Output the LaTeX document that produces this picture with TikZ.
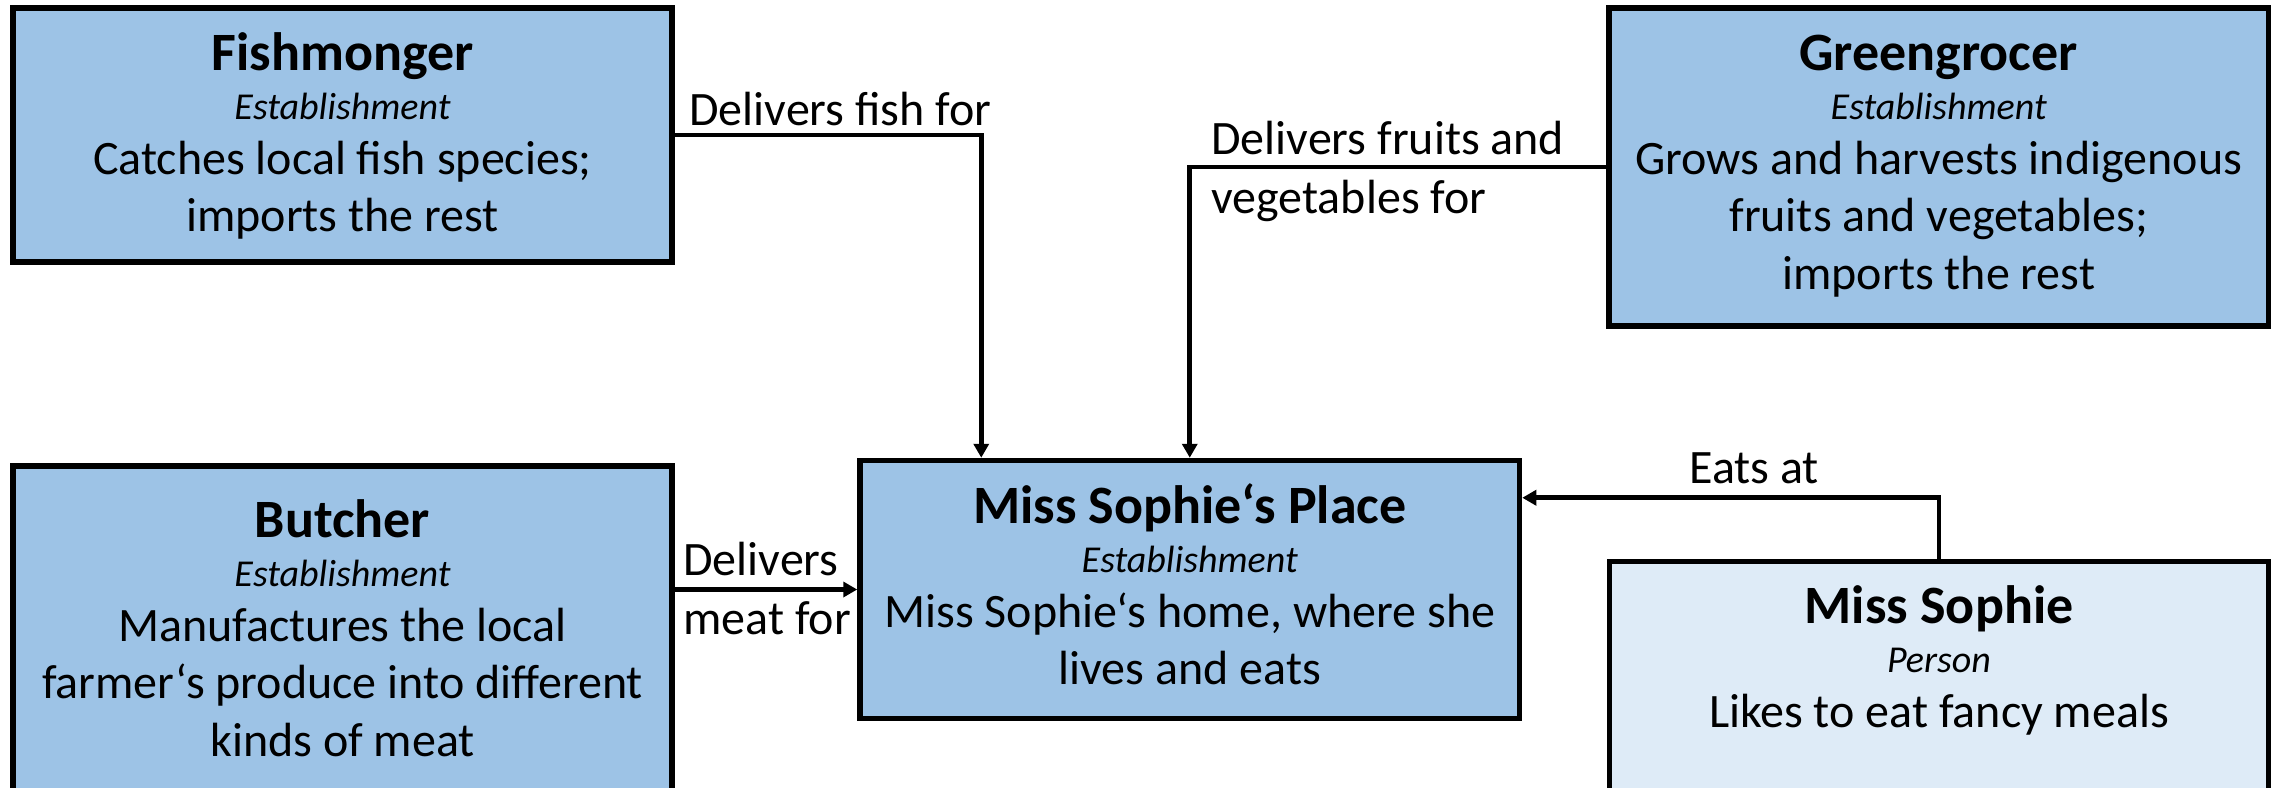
\documentclass[tikz,border=0pt]{standalone}
\usepackage{fontspec}
\setmainfont{Carlito}
\usetikzlibrary{arrows.meta,calc}
\definecolor{estblue}{HTML}{9DC3E6}
\definecolor{personblue}{HTML}{DEEBF7}
% one entity card: bold name, italic kind, then the description lines
\newcommand{\cardname}[1]{{\bfseries\fontsize{27}{28.75}\selectfont #1}\\[-4.25pt]}
\newcommand{\cardkind}[1]{{\itshape\fontsize{19}{28.75}\selectfont #1}\\[-1.25pt]}
\newenvironment{card}{\renewcommand{\arraystretch}{1}\begin{tabular}[t]{@{}c@{}}}{\end{tabular}}
\begin{document}
\begin{tikzpicture}[x=0.5pt,y=-0.5pt,
  entity/.style={draw=black, line width=2.75pt, fill=estblue, rectangle, inner sep=0pt},
  person/.style={entity, fill=personblue},
  body/.style={font=\fontsize{24}{28.75}\selectfont, inner sep=0pt, anchor=base},
  rel/.style={line width=2.3pt, -{Triangle[length=7pt,width=7.5pt]}},
  rellabel/.style={font=\fontsize{24}{28.75}\selectfont, inner sep=0pt, anchor=base west}]
\useasboundingbox (0,0) rectangle (2279,787);
\clip (0,0) rectangle (2279,787);

% entity boxes
\node[entity, minimum width=329.5pt, minimum height=127pt] (fish) at (342.5,135) {};
\node[entity, minimum width=329.75pt, minimum height=159pt] (green) at (1938.75,167) {};
\node[entity, minimum width=329.75pt, minimum height=129pt] (place) at (1189.75,589.5) {};
\node[entity, minimum width=329.5pt, minimum height=182pt] (butcher) at (342.5,648) {};
\node[person, minimum width=329.5pt, minimum height=134.25pt] (sophie) at (1939,695.75) {};

% box texts, placed by the baseline of their first line
\node[body] (fishT) at (342.5,70) {\begin{card}\cardname{Fishmonger}\cardkind{Establishment}Catches local fish species;\\imports the rest\end{card}};
\node[body] (greenT) at (1938.75,70) {\begin{card}\cardname{Greengrocer}\cardkind{Establishment}Grows and harvests indigenous\\fruits and vegetables;\\imports the rest\end{card}};
\node[body] (placeT) at (1189.75,523) {\begin{card}\cardname{Miss Sophie‘s Place}\cardkind{Establishment}Miss Sophie‘s home, where she\\lives and eats\end{card}};
\node[body] (butcherT) at (342.5,537) {\begin{card}\cardname{Butcher}\cardkind{Establishment}Manufactures the local\\farmer‘s produce into different\\kinds of meat\end{card}};
\node[body] (sophieT) at (1939,623) {\begin{card}\cardname{Miss Sophie}\cardkind{Person}Likes to eat fancy meals\end{card}};

% connectors
\coordinate (fishdrop) at ($(place.north west)+(124,0)$);
\coordinate (eatsturn) at ($(place.north east)+(0,40)$);
\draw[rel] (fish.east) -| (fishdrop);
\draw[rel] (green.west) -| (place.north);
\draw[rel] (place.west -| butcher.east) -- (place.west);
\draw[rel] (sophie.north) |- (eatsturn);

% connector labels
\node[rellabel] (lblfish) at (689,125) {Delivers fish for};
\node[rellabel] (lblgreenA) at (1211,154) {Delivers fruits and};
\node[rellabel] (lblgreenB) at (1211,213) {vegetables for};
\node[rellabel] (lbleats) at (1689,483) {Eats at};
\node[rellabel] (lblmeatA) at (683,575) {Delivers};
\node[rellabel] (lblmeatB) at (683,634) {meat for};
\end{tikzpicture}
\end{document}
